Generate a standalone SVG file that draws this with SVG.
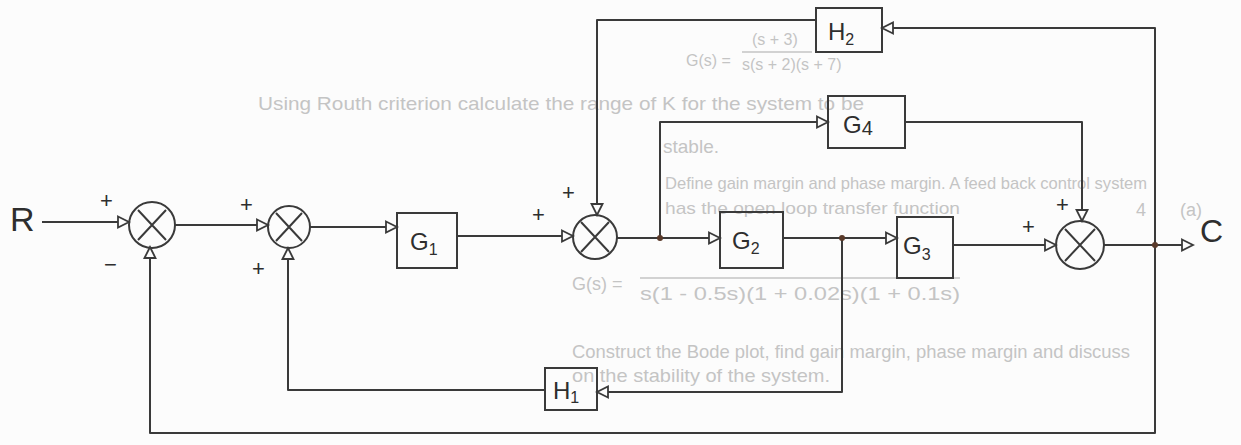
<svg xmlns="http://www.w3.org/2000/svg" width="1241" height="445" viewBox="0 0 1241 445">
<style>
.bg{fill:#fcfcfc}
.ln{fill:none;stroke:#3a3a3a;stroke-width:2;stroke-linejoin:round}
.box{fill:none;stroke:#3a3a3a;stroke-width:2}
.sum{fill:none;stroke:#3a3a3a;stroke-width:2}
.lbl{font-family:"Liberation Sans",Arial,sans-serif;font-size:24px;fill:#2e2e2e}
.sub{font-size:16px}
.sg{font-family:"Liberation Sans",Arial,sans-serif;font-size:22px;fill:#2e2e2e}
.faint{font-family:"Liberation Sans",Arial,sans-serif;font-size:18px;fill:#c4c4c4}
.fl{stroke:#c4c4c4;stroke-width:1.5}
.dot{fill:#5a3a2a}
</style>
<defs>
<marker id="ah" markerUnits="userSpaceOnUse" markerWidth="14" markerHeight="14" refX="12" refY="7" orient="auto">
<path d="M1,1.5 L12,7 L1,12.5 Z" fill="#fcfcfc" stroke="#3a3a3a" stroke-width="1.8"/>
</marker>
</defs>
<rect class="bg" x="0" y="0" width="1241" height="445"/>
<g id="background-text">
<text class="faint" x="686" y="66" style="font-size:16px">G(s) =</text>
<text class="faint" x="752" y="45" style="font-size:16px">(s + 3)</text>
<line class="fl" x1="742" y1="52" x2="812" y2="52"/>
<text class="faint" x="742" y="70" style="font-size:16px">s(s + 2)(s + 7)</text>
<text class="faint" x="258" y="110" style="font-size:19px" textLength="606" lengthAdjust="spacingAndGlyphs">Using Routh criterion calculate the range of K for the system to be</text>
<text class="faint" x="663" y="153" style="font-size:19px">stable.</text>
<text class="faint" x="665" y="189" style="font-size:17px" textLength="482" lengthAdjust="spacingAndGlyphs">Define gain margin and phase margin. A feed back control system</text>
<text class="faint" x="665" y="214" style="font-size:17px" textLength="295" lengthAdjust="spacingAndGlyphs">has the open loop transfer function</text>
<text class="faint" x="1136" y="216">4</text>
<text class="faint" x="1180" y="216">(a)</text>
<text class="faint" x="572" y="290">G(s) =</text>
<line class="fl" x1="640" y1="278" x2="960" y2="278"/>
<text class="faint" x="640" y="300" textLength="320" lengthAdjust="spacingAndGlyphs">s(1 - 0.5s)(1 + 0.02s)(1 + 0.1s)</text>
<text class="faint" x="572" y="358" style="font-size:19px" textLength="558" lengthAdjust="spacingAndGlyphs">Construct the Bode plot, find gain margin, phase margin and discuss</text>
<text class="faint" x="572" y="382" style="font-size:19px" textLength="258" lengthAdjust="spacingAndGlyphs">on the stability of the system.</text>
</g>
<g id="connectors">
<path class="ln" d="M42,222 H129" marker-end="url(#ah)"/>
<path class="ln" d="M175,225 H268" marker-end="url(#ah)"/>
<path class="ln" d="M310,227 H397" marker-end="url(#ah)"/>
<path class="ln" d="M457,236 H573" marker-end="url(#ah)"/>
<path class="ln" d="M617,238 H720" marker-end="url(#ah)"/>
<path class="ln" d="M783,238 H897" marker-end="url(#ah)"/>
<path class="ln" d="M953,245 H1056" marker-end="url(#ah)"/>
<path class="ln" d="M1104,245 H1193" marker-end="url(#ah)"/>
<path class="ln" d="M660,238 V122 H828" marker-end="url(#ah)"/>
<path class="ln" d="M905,122 H1082 V221" marker-end="url(#ah)"/>
<path class="ln" d="M1155,245 V28 H882" marker-end="url(#ah)"/>
<path class="ln" d="M816,20 H597 V215" marker-end="url(#ah)"/>
<path class="ln" d="M842,238 V392 H597" marker-end="url(#ah)"/>
<path class="ln" d="M545,390 H288 V248" marker-end="url(#ah)"/>
<path class="ln" d="M1155,245 V433 H150 V247" marker-end="url(#ah)"/>
<circle class="dot" cx="660" cy="238" r="3"/>
<circle class="dot" cx="842" cy="238" r="3"/>
<circle class="dot" cx="1155" cy="245" r="3"/>
</g>
<g id="R"><text class="lbl" x="10" y="231" style="font-size:34px">R</text></g>
<g id="C"><text class="lbl" x="1200" y="242" style="font-size:32px">C</text></g>
<g id="sum1">
<circle class="sum" cx="152" cy="225" r="23"/>
<path class="ln" d="M138,210 L166,240 M166,210 L138,240"/>
<text class="sg" x="100" y="208">+</text>
<text class="sg" x="104" y="272">−</text>
</g>
<g id="sum2">
<circle class="sum" cx="289" cy="227" r="21"/>
<path class="ln" d="M276,213 L302,241 M302,213 L276,241"/>
<text class="sg" x="240" y="212">+</text>
<text class="sg" x="252" y="276">+</text>
</g>
<g id="G1">
<rect class="box" x="397" y="213" width="60" height="55"/>
<text class="lbl" x="410" y="250">G<tspan class="sub" dy="5">1</tspan></text>
</g>
<g id="sum3">
<circle class="sum" cx="595" cy="237" r="22"/>
<path class="ln" d="M581,222 L609,252 M609,222 L581,252"/>
<text class="sg" x="532" y="222">+</text>
<text class="sg" x="562" y="200">+</text>
</g>
<g id="G2">
<rect class="box" x="720" y="212" width="63" height="56"/>
<text class="lbl" x="732" y="249">G<tspan class="sub" dy="5">2</tspan></text>
</g>
<g id="G3">
<rect class="box" x="897" y="217" width="56" height="61"/>
<text class="lbl" x="903" y="254">G<tspan class="sub" dy="6">3</tspan></text>
</g>
<g id="sum4">
<circle class="sum" cx="1080" cy="245" r="24"/>
<path class="ln" d="M1065,229 L1095,261 M1095,229 L1065,261"/>
<text class="sg" x="1022" y="234">+</text>
<text class="sg" x="1056" y="212">+</text>
</g>
<g id="G4">
<rect class="box" x="828" y="96" width="77" height="52"/>
<text class="lbl" x="843" y="133">G<tspan class="sub" dy="2" style="font-size:20px">4</tspan></text>
</g>
<g id="H2">
<rect class="box" x="816" y="8" width="66" height="44"/>
<text class="lbl" x="828" y="40">H<tspan class="sub" dy="5">2</tspan></text>
</g>
<g id="H1">
<rect class="box" x="545" y="368" width="52" height="42"/>
<text class="lbl" x="553" y="399">H<tspan class="sub" dy="4">1</tspan></text>
</g>
</svg>
